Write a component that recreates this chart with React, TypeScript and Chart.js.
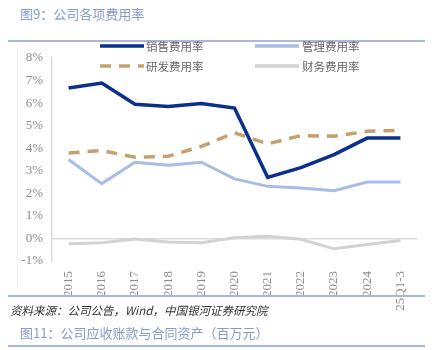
import React, { useEffect, useRef } from "react";
import { Chart, registerables } from "chart.js";

Chart.register(...registerables);

const categories = ["2015", "2016", "2017", "2018", "2019", "2020", "2021", "2022", "2023", "2024", "25Q1-3"];
const salesRate = [6.67, 6.89, 5.95, 5.85, 5.98, 5.78, 2.71, 3.14, 3.72, 4.45, 4.45];
const adminRate = [3.5, 2.43, 3.38, 3.25, 3.38, 2.64, 2.31, 2.24, 2.12, 2.5, 2.5];
const rdRate = [3.79, 3.9, 3.6, 3.64, 4.08, 4.68, 4.19, 4.56, 4.53, 4.75, 4.8];
const financeRate = [-0.23, -0.19, -0.02, -0.16, -0.19, 0.03, 0.1, -0.04, -0.46, -0.27, -0.09];
const yTicks = [-1, 0, 1, 2, 3, 4, 5, 6, 7, 8];

const seriesNames = ["销售费用率", "管理费用率", "研发费用率", "财务费用率"];
const colors = ["#0b2f8c", "#a7bde6", "#c4a06e", "#d2d2d2"];

export default function App() {
  const ref = useRef<HTMLCanvasElement | null>(null);

  useEffect(() => {
    document.body.style.margin = "0";
    const canvas = ref.current;
    if (!canvas) return;
    const chart = new Chart(canvas, {
      type: "line",
      data: {
        labels: categories,
        datasets: [
          { label: seriesNames[0], data: salesRate, borderColor: colors[0], borderWidth: 3.5 },
          { label: seriesNames[1], data: adminRate, borderColor: colors[1], borderWidth: 3 },
          { label: seriesNames[2], data: rdRate, borderColor: colors[2], borderWidth: 3.5, borderDash: [11, 8] },
          { label: seriesNames[3], data: financeRate, borderColor: colors[3], borderWidth: 3 },
        ].map((d) => ({ ...d, pointRadius: 0, tension: 0, fill: false, borderJoinStyle: "miter" as const })),
      },
      options: {
        animation: false,
        responsive: false,
        maintainAspectRatio: false,
        layout: { padding: { top: 58, right: 19, left: 0, bottom: 0 } },
        plugins: { legend: { display: false }, tooltip: { enabled: false } },
        scales: {
          x: {
            type: "category",
            offset: true,
            grid: { display: false },
            border: { display: false },
            ticks: {
              minRotation: 90,
              maxRotation: 90,
              padding: 2,
              color: "#8c8c8c",
              font: { family: "'Liberation Serif', serif", size: 13 },
            },
            afterFit: (s: any) => {
              s.height = 89;
            },
          },
          y: {
            min: -1,
            max: 8,
            afterBuildTicks: (s: any) => {
              s.ticks = yTicks.map((v) => ({ value: v }));
            },
            grid: {
              drawTicks: false,
              color: (ctx: any) => (ctx.tick && ctx.tick.value === 0 ? "#dcdcdc" : "rgba(0,0,0,0)"),
              lineWidth: 1.5,
            },
            border: { display: true, color: "#dcdcdc", width: 1.5 },
            ticks: {
              padding: 9,
              color: "#8c8c8c",
              font: { family: "'Liberation Serif', serif", size: 13 },
              callback: (v: any) => `${v}%`,
            },
            afterFit: (s: any) => {
              s.width = 52;
            },
          },
        },
      },
    });
    return () => chart.destroy();
  }, []);

  const legendText: React.CSSProperties = {
    position: "absolute",
    fontFamily: "'Noto Sans CJK SC', sans-serif",
    fontSize: 11.5,
    color: "#666",
    lineHeight: "14px",
  };
  const sample = (x: number, y: number, i: number, dashed = false) => (
    <svg style={{ position: "absolute", left: x, top: y - 3 }} width={44} height={6}>
      <line
        x1={0}
        y1={3}
        x2={44}
        y2={3}
        stroke={colors[i]}
        strokeWidth={3.5}
        strokeDasharray={dashed ? "11 8" : undefined}
      />
    </svg>
  );

  return (
    <div style={{ position: "relative", width: 436, height: 350, background: "#fff", overflow: "hidden" }}>
      <div
        style={{
          position: "absolute",
          left: 20,
          top: 5,
          fontFamily: "'Noto Sans CJK SC', sans-serif",
          fontSize: 13,
          color: "#8a9bc7",
          lineHeight: "18px",
        }}
      >
        图9：公司各项费用率
      </div>
      <div style={{ position: "absolute", left: 8, top: 40, width: 417, height: 2, background: "#a8b7db" }} />
      <div style={{ position: "absolute", left: 17, top: 44, width: 1, height: 248, background: "#f3f3f3" }} />
      <canvas ref={ref} width={436} height={350} style={{ position: "absolute", left: 0, top: 0 }} />
      {sample(100, 46, 0)}
      <div style={{ ...legendText, left: 146, top: 39 }}>{seriesNames[0]}</div>
      {sample(255, 46, 1)}
      <div style={{ ...legendText, left: 302, top: 39 }}>{seriesNames[1]}</div>
      {sample(100, 66, 2, true)}
      <div style={{ ...legendText, left: 146, top: 59 }}>{seriesNames[2]}</div>
      {sample(255, 66, 3)}
      <div style={{ ...legendText, left: 302, top: 59 }}>{seriesNames[3]}</div>
      <div style={{ position: "absolute", left: 8, top: 295, width: 417, height: 1.5, background: "#a8b7db" }} />
      <div
        style={{
          position: "absolute",
          left: 10,
          top: 302,
          fontFamily: "'Noto Sans CJK SC', sans-serif",
          fontStyle: "italic",
          fontSize: 11.5,
          color: "#333",
          lineHeight: "16px",
        }}
      >
        资料来源：公司公告，Wind，中国银河证券研究院
      </div>
      <div
        style={{
          position: "absolute",
          left: 20,
          top: 324,
          fontFamily: "'Noto Sans CJK SC', sans-serif",
          fontSize: 13,
          color: "#8a9bc7",
          lineHeight: "18px",
        }}
      >
        图11：公司应收账款与合同资产（百万元）
      </div>
      <div style={{ position: "absolute", left: 8, top: 345, width: 417, height: 2, background: "#a8b7db" }} />
    </div>
  );
}
